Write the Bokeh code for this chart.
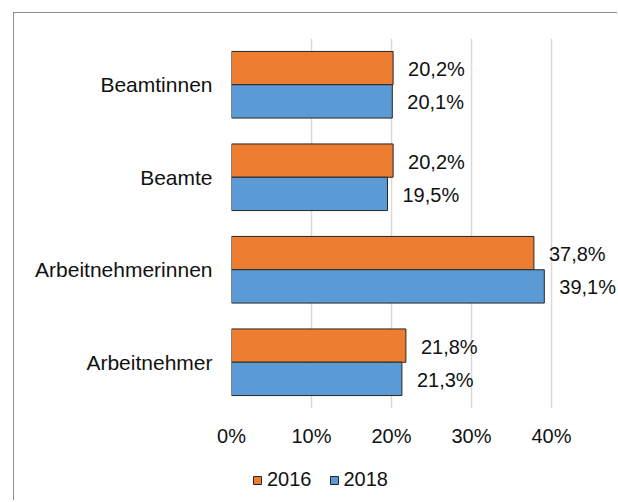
from bokeh.plotting import figure
from bokeh.layouts import column
from bokeh.models import (FactorRange, ColumnDataSource, FixedTicker,
                          NumeralTickFormatter, Legend, LegendItem, Range1d)
from bokeh.transform import dodge
from bokeh.core.properties import value
from bokeh.embed import file_html
from bokeh.resources import INLINE

categories = ["Beamtinnen", "Beamte", "Arbeitnehmerinnen", "Arbeitnehmer"]
values_2016 = [0.202, 0.202, 0.378, 0.218]
values_2018 = [0.201, 0.195, 0.391, 0.213]
series = ["2016", "2018"]
x_ticks = [0.0, 0.1, 0.2, 0.3, 0.4]

FONT = "Liberation Sans"
C16 = "#ED7D31"
C18 = "#5B9BD5"
TXT = "#111111"
EDGE = "#262626"
W = 603


def fmt(v):
    return f"{v * 100:.1f}".replace(".", ",") + "%"


src = ColumnDataSource(dict(
    cat=categories,
    v16=values_2016,
    v18=values_2018,
    l16=[fmt(v) for v in values_2016],
    l18=[fmt(v) for v in values_2018],
))

p = figure(width=W, height=445,
           y_range=FactorRange(factors=categories[::-1], range_padding=0),
           x_range=Range1d(0, (W - 217) / 800),
           output_backend="svg", toolbar_location=None,
           min_border_left=217, min_border_right=0,
           min_border_top=25, min_border_bottom=50)
p.outline_line_color = None
p.background_fill_color = "white"
p.border_fill_color = "white"

BH = 0.36
r16 = p.hbar(y=dodge("cat", BH / 2, range=p.y_range), right="v16", left=0,
             height=BH, source=src, fill_color=C16, line_color=EDGE,
             line_width=1)
r18 = p.hbar(y=dodge("cat", -BH / 2, range=p.y_range), right="v18", left=0,
             height=BH, source=src, fill_color=C18, line_color=EDGE,
             line_width=1)

p.text(x="v16", y=dodge("cat", BH / 2, range=p.y_range), text="l16",
       source=src, x_offset=15, y_offset=1, text_baseline="middle",
       text_align="left", text_font=value(FONT), text_font_size="20px",
       text_color=TXT)
p.text(x="v18", y=dodge("cat", -BH / 2, range=p.y_range), text="l18",
       source=src, x_offset=15, y_offset=1, text_baseline="middle",
       text_align="left", text_font=value(FONT), text_font_size="20px",
       text_color=TXT)

# x axis
p.xaxis.ticker = FixedTicker(ticks=x_ticks)
p.xaxis.formatter = NumeralTickFormatter(format="0%")
p.xaxis.axis_line_color = None
p.xaxis.major_tick_line_color = None
p.xaxis.minor_tick_line_color = None
p.xaxis.major_tick_out = 0
p.xaxis.major_tick_in = 0
p.xaxis.major_label_standoff = 16
p.xaxis.major_label_text_font = FONT
p.xaxis.major_label_text_font_size = "20px"
p.xaxis.major_label_text_color = TXT

# y axis
p.yaxis.axis_line_color = None
p.yaxis.major_tick_line_color = None
p.yaxis.minor_tick_line_color = None
p.yaxis.major_tick_out = 0
p.yaxis.major_tick_in = 0
p.yaxis.major_label_standoff = 19
p.yaxis.major_label_text_font = FONT
p.yaxis.major_label_text_font_size = "21px"
p.yaxis.major_label_text_color = TXT

p.xgrid.grid_line_color = "#d9d9d9"
p.xgrid.grid_line_width = 1.5
p.ygrid.grid_line_color = None

# legend strip below the chart; proxy bars share the data but map outside
# this strip's own (series) factor range, so only the legend keys show
lg = figure(width=W, height=42, output_backend="svg", toolbar_location=None,
            y_range=FactorRange(factors=series),
            x_range=Range1d(1, 2),
            min_border=0, min_border_left=0, min_border_right=0,
            min_border_top=0, min_border_bottom=0)
lg.axis.visible = False
lg.grid.visible = False
lg.outline_line_color = None
lg.background_fill_color = "white"
lg.border_fill_color = "white"
d16 = lg.hbar(y="cat", right="v16", left=0, height=BH, source=src,
              fill_color=C16, line_color=EDGE, line_width=1)
d18 = lg.hbar(y="cat", right="v18", left=0, height=BH, source=src,
              fill_color=C18, line_color=EDGE, line_width=1)
legend = Legend(items=[LegendItem(label=series[0], renderers=[d16]),
                       LegendItem(label=series[1], renderers=[d18])],
                location=(21, 9), orientation="horizontal",
                glyph_width=10, glyph_height=10, label_standoff=5,
                spacing=17, padding=0, margin=0,
                border_line_color=None, background_fill_alpha=0,
                label_text_font=FONT, label_text_font_size="20px",
                label_text_color=TXT)
lg.add_layout(legend, "center")

layout = column(p, lg, spacing=0)
layout.styles = {"margin-left": "13px", "margin-top": "12px",
                 "border-top": "1px solid #8c8c8c",
                 "border-left": "1px solid #8c8c8c"}

open("out.html", "w").write(file_html(layout, INLINE))
